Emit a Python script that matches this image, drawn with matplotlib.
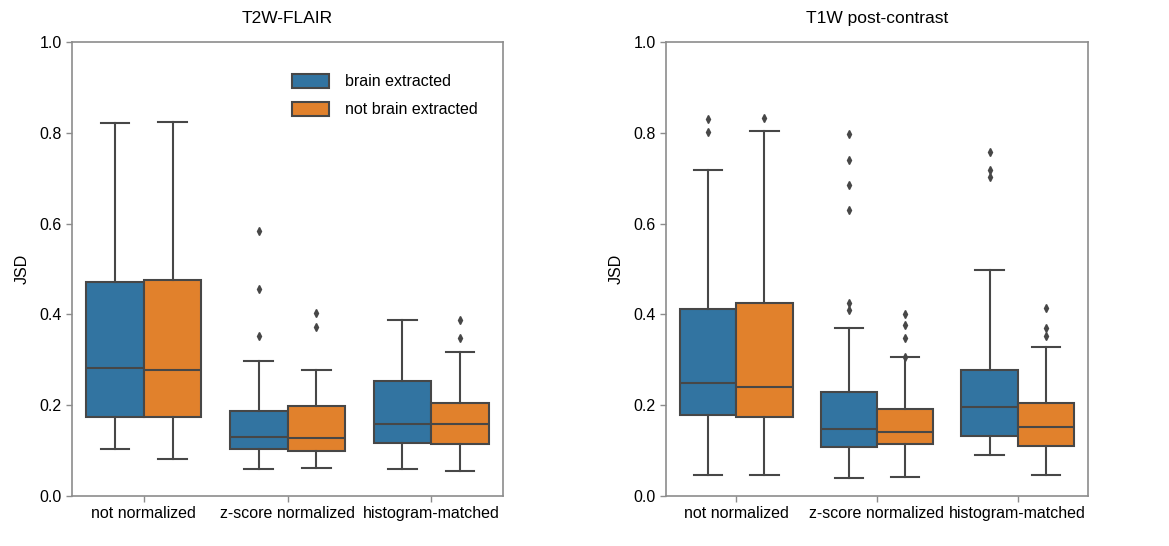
import matplotlib
matplotlib.use("Agg")
import matplotlib.pyplot as plt
from matplotlib.patches import Patch

plt.rcParams['font.family'] = ['Liberation Sans', 'DejaVu Sans']

categories = ["not normalized", "z-score normalized", "histogram-matched"]
groups = ["brain extracted", "not brain extracted"]
colors = ["#3274a1", "#e1812c"]
line_color = "#474747"

# box statistics: (low whisker, q1, median, q3, high whisker, fliers)
flair_brain = [
    (0.103, 0.175, 0.281, 0.472, 0.821, []),
    (0.059, 0.103, 0.129, 0.187, 0.297, [0.584, 0.457, 0.353]),
    (0.059, 0.116, 0.159, 0.253, 0.387, []),
]
flair_nobrain = [
    (0.082, 0.175, 0.277, 0.475, 0.824, []),
    (0.061, 0.098, 0.127, 0.198, 0.278, [0.403, 0.373]),
    (0.055, 0.114, 0.159, 0.204, 0.317, [0.388, 0.349]),
]
t1_brain = [
    (0.046, 0.179, 0.248, 0.412, 0.719, [0.831, 0.802]),
    (0.040, 0.109, 0.147, 0.228, 0.371, [0.798, 0.739, 0.686, 0.631, 0.426, 0.410]),
    (0.090, 0.132, 0.195, 0.277, 0.497, [0.758, 0.719, 0.703]),
]
t1_nobrain = [
    (0.046, 0.173, 0.241, 0.426, 0.803, [0.832]),
    (0.042, 0.114, 0.142, 0.191, 0.306, [0.400, 0.377, 0.349, 0.307]),
    (0.046, 0.111, 0.152, 0.204, 0.329, [0.414, 0.371, 0.353]),
]

panels = [
    ("T2W-FLAIR", [flair_brain, flair_nobrain], [0.0616, 0.0916, 0.3687, 0.8315]),
    ("T1W post-contrast", [t1_brain, t1_nobrain], [0.5697, 0.0916, 0.3610, 0.8315]),
]


def to_stats(rows):
    out = []
    for lo, q1, med, q3, hi, fl in rows:
        out.append(dict(whislo=lo, q1=q1, med=med, q3=q3, whishi=hi, fliers=fl))
    return out


fig = plt.figure(figsize=(11.69, 5.46), dpi=100)

for k, (title, series, rect) in enumerate(panels):
    ax = fig.add_axes(rect)
    for g, rows in enumerate(series):
        offset = -0.2 if g == 0 else 0.2
        pos = [i + offset for i in range(len(categories))]
        ax.bxp(to_stats(rows), positions=pos, widths=0.4, patch_artist=True,
               showfliers=True,
               boxprops=dict(facecolor=colors[g], edgecolor=line_color, linewidth=1.5),
               medianprops=dict(color=line_color, linewidth=1.5),
               whiskerprops=dict(color=line_color, linewidth=1.5),
               capprops=dict(color=line_color, linewidth=1.5),
               capwidths=0.2,
               flierprops=dict(marker="d", markersize=4, markerfacecolor=line_color,
                               markeredgecolor=line_color))
    ax.set_xlim(-0.5, 2.5)
    ax.set_ylim(0, 1.0)
    ax.set_xticks(range(len(categories)))
    ax.set_xticklabels(categories, fontsize=11.5)
    ax.set_yticks([0.0, 0.2, 0.4, 0.6, 0.8, 1.0])
    ax.set_yticklabels(["0.0", "0.2", "0.4", "0.6", "0.8", "1.0"], fontsize=11.5)
    ax.set_ylabel("JSD", fontsize=11.5, labelpad=7)
    ax.set_title(title, fontsize=12.5, pad=14)
    for s in ax.spines.values():
        s.set_color("#8c8c8c")
        s.set_linewidth(1.2)
    ax.tick_params(colors="#8c8c8c", labelcolor="black", length=4, width=1.0)
    if k == 0:
        handles = [Patch(facecolor=colors[i], edgecolor=line_color, linewidth=1.5)
                   for i in range(2)]
        ax.legend(handles, groups, loc="upper left", bbox_to_anchor=(0.51, 0.93),
                  frameon=False, fontsize=11.5, handlelength=2.3, handleheight=0.95,
                  handletextpad=1.0, labelspacing=0.8, borderpad=0,
                  borderaxespad=0)

fig.savefig("out.png", dpi=100)
